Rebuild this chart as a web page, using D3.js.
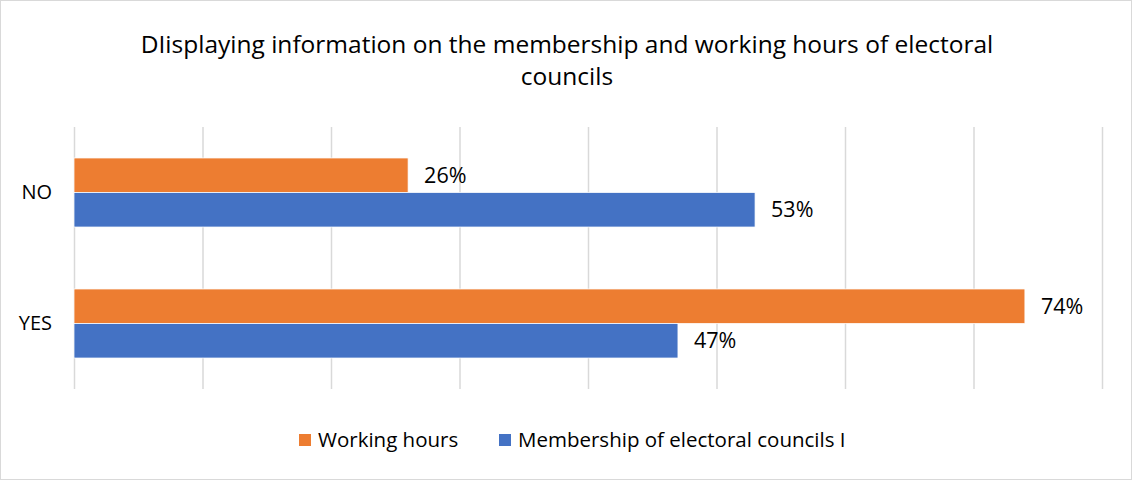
<!DOCTYPE html>
<html>
<head>
<meta charset="utf-8">
<script src="https://cdn.jsdelivr.net/npm/d3@7"></script>
<style>
  html, body { margin: 0; padding: 0; background: #fff; }
  svg { display: block; font-family: "Open Sans", "Noto Sans", sans-serif; }
</style>
</head>
<body>
<svg id="chart" width="1132" height="480"></svg>
<script>
// Chart data
const titleLines = ["DIisplaying information on the membership and working hours of electoral", "councils"];
const categories = ["NO", "YES"];
const seriesNames = ["Working hours", "Membership of electoral councils I"];
const workingHours = [26, 74];
const membership = [53, 47];
const xTicks = [0, 10, 20, 30, 40, 50, 60, 70, 80];
const colors = ["#ED7D31", "#4472C4"];

const W = 1132, H = 480;
const plot = { left: 74, right: 1102, top: 127, bottom: 389 };

const svg = d3.select("#chart");

// outer frame
svg.append("rect")
  .attr("x", 0.5).attr("y", 0.5)
  .attr("width", W - 1).attr("height", H - 1)
  .attr("fill", "#fff").attr("stroke", "#d9d9d9").attr("stroke-width", 1);

// title
svg.append("text")
  .attr("text-anchor", "middle")
  .attr("font-size", 24.5)
  .attr("fill", "#000")
  .selectAll("tspan").data(titleLines).join("tspan")
  .attr("x", W / 2 + 1)
  .attr("y", (d, i) => 53 + i * 32)
  .text(d => d);

const x = d3.scaleLinear().domain([0, 80]).range([plot.left, plot.right]);
const y = d3.scaleBand().domain(categories)
  .range([plot.top, plot.bottom])
  .paddingInner(0.473).paddingOuter(0.2365);
const ySub = d3.scaleBand().domain([0, 1]).range([0, y.bandwidth()]);

// vertical gridlines
svg.append("g")
  .attr("transform", `translate(0,${plot.bottom})`)
  .call(d3.axisBottom(x).tickValues(xTicks).tickSize(-(plot.bottom - plot.top)).tickFormat(""))
  .call(g => g.select(".domain").remove())
  .call(g => g.selectAll(".tick line").attr("stroke", "#d9d9d9").attr("stroke-width", 1.5));

// category axis labels
svg.append("g")
  .attr("transform", `translate(${plot.left},0)`)
  .call(d3.axisLeft(y).tickSize(0).tickPadding(22))
  .call(g => g.select(".domain").remove())
  .call(g => g.selectAll("text")
    .attr("font-size", 20).attr("fill", "#000")
    .attr("font-family", "'Open Sans', sans-serif"));

const rows = categories.map((c, i) => ({ cat: c, vals: [workingHours[i], membership[i]] }));

const groups = svg.append("g").selectAll("g").data(rows).join("g")
  .attr("transform", d => `translate(0,${y(d.cat)})`);

groups.selectAll("rect").data(d => d.vals).join("rect")
  .attr("x", x(0))
  .attr("y", (d, i) => ySub(i))
  .attr("width", d => x(d) - x(0))
  .attr("height", ySub.bandwidth())
  .attr("fill", (d, i) => colors[i])
  .attr("stroke", "#fff").attr("stroke-width", 0.75);

groups.selectAll("text").data(d => d.vals).join("text")
  .attr("x", d => x(d) + 16)
  .attr("y", (d, i) => ySub(i) + ySub.bandwidth() / 2)
  .attr("dy", "0.36em")
  .attr("font-size", 21.5)
  .attr("fill", "#000")
  .text(d => d + "%");

// legend
const legendX = [299, 499];
const legend = svg.append("g").selectAll("g").data(seriesNames).join("g")
  .attr("transform", (d, i) => `translate(${legendX[i]},434)`);
legend.append("rect")
  .attr("width", 12).attr("height", 12)
  .attr("fill", (d, i) => colors[i]);
legend.append("text")
  .attr("x", 19).attr("y", 6).attr("dy", "0.36em")
  .attr("font-size", 20.5).attr("fill", "#000")
  .text(d => d);
</script>
</body>
</html>
